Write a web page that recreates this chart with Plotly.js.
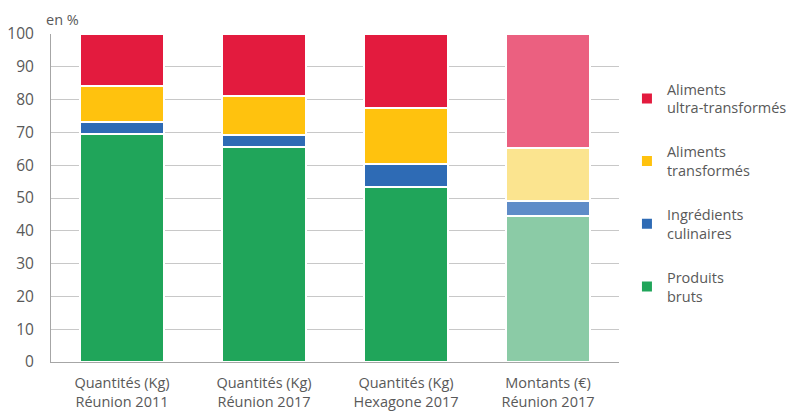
<!DOCTYPE html>
<html>
<head>
<meta charset="utf-8">
<script src="https://cdn.plot.ly/plotly-3.0.1.min.js"></script>
<style>html,body{margin:0;padding:0;background:#fff;}#chart{width:791px;height:411px;}</style>
</head>
<body>
<div id="chart"></div>
<script>
const categories = ["Quantités (Kg)<br>Réunion 2011", "Quantités (Kg)<br>Réunion 2017", "Quantités (Kg)<br>Hexagone 2017", "Montants (€)<br>Réunion 2017"];
const seriesNames = ["Produits<br>bruts", "Ingrédients<br>culinaires", "Aliments<br>transformés", "Aliments<br>ultra-transformés"];
const produitsBruts = [69.5, 65.5, 53.5, 44.5];
const ingredientsCulinaires = [3.8, 3.8, 6.8, 4.5];
const alimentsTransformes = [10.7, 11.7, 17.0, 16.3];
const alimentsUltra = [16.0, 19.0, 22.7, 34.7];
const strongColors = ["#20A55A", "#2E6BB5", "#FFC20E", "#E31B3E"];
const lightColors = ["#8BCBA6", "#5F8CC8", "#FBE48F", "#EB6080"];

const values = [produitsBruts, ingredientsCulinaires, alimentsTransformes, alimentsUltra];
const traces = values.map((v, i) => ({
  type: "bar",
  x: categories,
  y: v,
  name: seriesNames[i],
  legendgroup: "g" + i,
  legendrank: 10 - i,
  marker: {
    color: categories.map((c, j) => j === 3 ? lightColors[i] : strongColors[i]),
    line: {color: "#ffffff", width: 2}
  },
  hoverinfo: "y+name"
}));

const layout = {
  width: 791, height: 411,
  margin: {l: 51, r: 172, t: 34, b: 49, autoexpand: false},
  barmode: "stack",
  bargap: 0.415,
  paper_bgcolor: "#ffffff",
  plot_bgcolor: "#ffffff",
  font: {family: "Open Sans, sans-serif", size: 14.5, color: "#595959"},
  xaxis: {
    showline: true, linecolor: "#a6a6a6", linewidth: 1,
    ticks: "", tickfont: {size: 14.5, color: "#595959"},
    ticklabelstandoff: 8,
    showgrid: false
  },
  yaxis: {
    range: [0, 100], dtick: 10,
    showline: true, linecolor: "#a6a6a6", linewidth: 1,
    showgrid: true, gridcolor: "#c8c8c8", gridwidth: 1,
    zeroline: false,
    ticks: "", ticklabelstandoff: 13,
    tickfont: {size: 15.5, color: "#595959"}
  },
  legend: {
    x: 1.014, xanchor: "left", y: 0.881, yanchor: "top",
    traceorder: "grouped",
    tracegroupgap: 22,
    font: {size: 14.5, color: "#595959"},
    itemwidth: 30
  },
  annotations: [{
    text: "en %", xref: "paper", yref: "paper", x: 0, y: 1, yshift: 15,
    xanchor: "left", yanchor: "middle", showarrow: false,
    xshift: -7, font: {size: 14.5, color: "#595959"}
  }]
};

Plotly.newPlot("chart", traces, layout, {displayModeBar: false, staticPlot: true});
</script>
</body>
</html>
